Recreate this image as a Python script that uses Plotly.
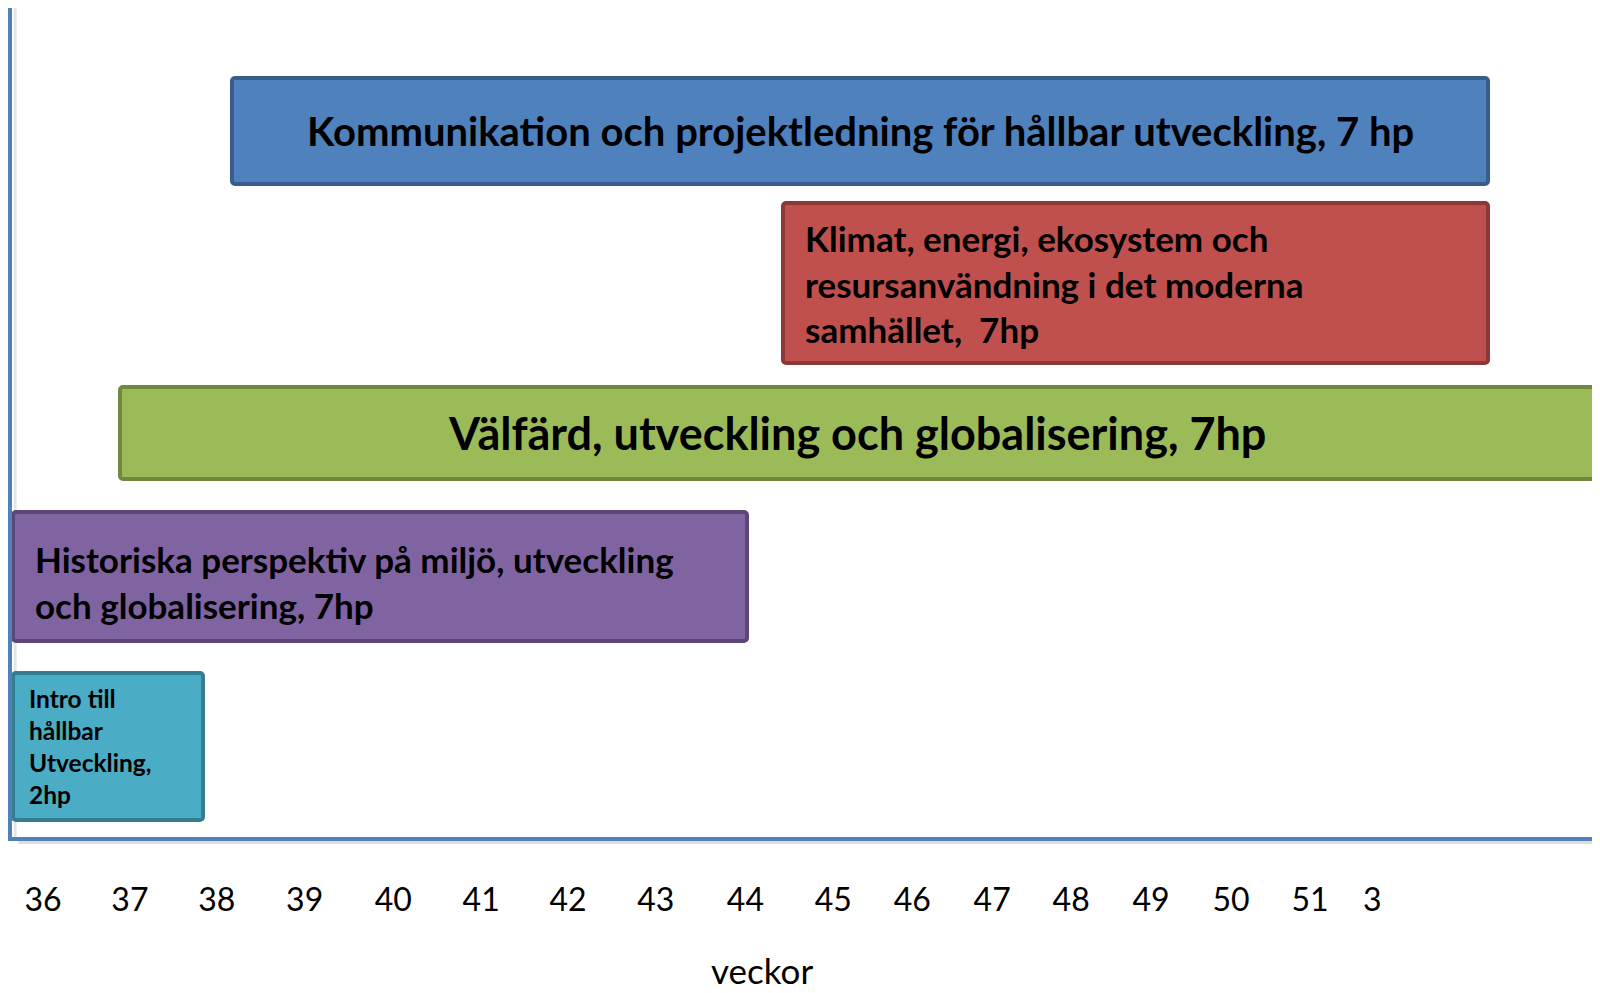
import plotly.graph_objects as go

# ---- data ----
week_labels = ["36", "37", "38", "39", "40", "41", "42", "43", "44",
               "45", "46", "47", "48", "49", "50", "51", "3"]
# where each week label sits along the time axis (label slots as drawn)
week_slots = [0, 0.99, 1.98, 2.98, 3.99, 4.99, 5.98, 6.98, 8.0,
              9.0, 9.9, 10.81, 11.71, 12.62, 13.53, 14.43, 15.14]

courses = [
    "Kommunikation och projektledning för hållbar utveckling, 7 hp",
    "Klimat, energi, ekosystem och<br>resursanvändning i det moderna<br>samhället,  7hp",
    "Välfärd, utveckling och globalisering, 7hp",
    "Historiska perspektiv på miljö, utveckling<br>och globalisering, 7hp",
    "Intro till<br>hållbar<br>Utveckling,<br>2hp",
]
course_start = [2.15, 8.43, 0.88, -0.34, -0.34]
course_end = [16.46, 16.46, 17.66, 8.02, 1.82]

# ---- layout / style ----
row_center = [7.06, 5.54, 4.04, 2.605, 0.905]
row_height = [1.06, 1.60, 0.92, 1.29, 1.47]
fill = ["#4F81BD", "#C0504D", "#9BBB59", "#8064A2", "#4BACC6"]
edge = ["#385D8A", "#8C3836", "#71893F", "#5C4776", "#357D91"]
text_size = [40, 35, 45, 35, 24.5]
text_centered = [True, False, True, False, False]
text_pad = [0, 20, 0, 20, 14]
text_dy = [0, 0, 0, -5, 0]

FONT = "Lato"

fig = go.Figure()
fig.add_trace(go.Bar(
    orientation="h",
    y=row_center,
    base=course_start,
    x=[e - s for s, e in zip(course_start, course_end)],
    width=row_height,
    marker=dict(color=fill, line=dict(color=edge, width=4), cornerradius=3),
    hoverinfo="skip",
    showlegend=False,
))

annotations = []
for i, name in enumerate(courses):
    if text_centered[i]:
        annotations.append(dict(
            x=(course_start[i] + course_end[i]) / 2, y=row_center[i],
            xref="x", yref="y", text="<b>" + name + "</b>", showarrow=False,
            xanchor="center", yanchor="middle", align="center", yshift=text_dy[i],
            font=dict(family=FONT, size=text_size[i], color="#000000")))
    else:
        annotations.append(dict(
            x=course_start[i], y=row_center[i],
            xref="x", yref="y", text="<b>" + name + "</b>", showarrow=False,
            xanchor="left", yanchor="middle", align="left",
            xshift=text_pad[i], yshift=text_dy[i],
            font=dict(family=FONT, size=text_size[i], color="#000000")))

annotations.append(dict(
    x=752 / 1592, y=0, xref="paper", yref="paper", text="veckor",
    showarrow=False, xanchor="center", yanchor="middle", yshift=-133,
    font=dict(family=FONT, size=35, color="#000000")))

# faint shadows next to the axis lines
shapes = [
    dict(type="line", xref="paper", yref="paper", x0=0.004, x1=1,
         y0=-0.006, y1=-0.006,
         line=dict(color="rgba(0,0,0,0.13)", width=4), layer="below"),
    dict(type="line", xref="paper", yref="paper", x0=0.002, x1=0.002,
         y0=0, y1=1,
         line=dict(color="rgba(0,0,0,0.10)", width=3), layer="below"),
]

fig.update_layout(
    width=1592, height=985,
    margin=dict(l=4, r=0, t=0, b=156, autoexpand=False),
    paper_bgcolor="white", plot_bgcolor="white",
    bargap=0,
    xaxis=dict(range=[-0.353, 17.733], tickvals=week_slots, ticktext=week_labels,
               showgrid=False, zeroline=False, showline=True, automargin=False,
               linecolor="#4F81BD", linewidth=4, ticks="",
               ticklabelstandoff=32,
               tickfont=dict(family=FONT, size=32, color="#000000")),
    yaxis=dict(range=[0, 8.29], showgrid=False, zeroline=False, showline=True,
               automargin=False,
               linecolor="#4F81BD", linewidth=4, showticklabels=False, ticks=""),
    annotations=annotations,
    shapes=shapes,
    font=dict(family=FONT),
)

fig.write_html("out.html")
